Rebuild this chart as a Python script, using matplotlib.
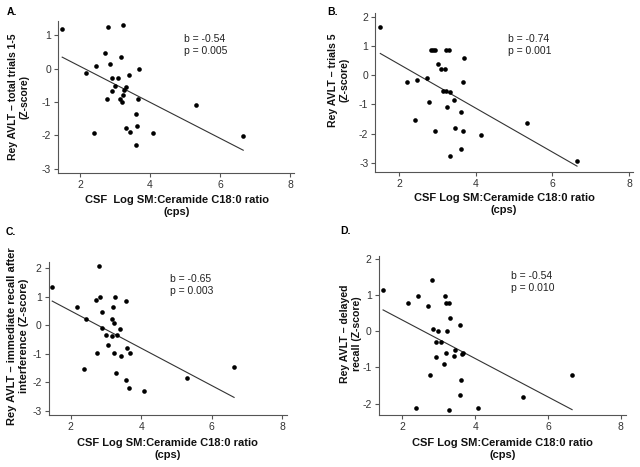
import matplotlib
matplotlib.use("Agg")
import matplotlib.pyplot as plt
import numpy as np

plt.rcParams['font.family'] = ['Liberation Sans', 'DejaVu Sans']
plt.rcParams['axes.unicode_minus'] = False

# ---------------- data ----------------
a_x = [1.49, 2.81, 3.22, 2.72, 3.18, 2.46, 2.86, 2.18, 3.69, 2.92, 3.07, 3.41, 3.31, 2.99, 2.90,
       3.26, 3.24, 2.76, 3.15, 3.21, 3.66, 5.31, 3.59, 3.62, 3.30, 3.44, 2.39, 4.09, 3.59, 6.66]
a_y = [1.18, 1.25, 1.32, 0.48, 0.34, 0.07, 0.13, -0.12, -0.01, -0.28, -0.29, -0.18, -0.54, -0.53, -0.66,
       -0.65, -0.79, -0.91, -0.91, -1.00, -0.92, -1.10, -1.35, -1.71, -1.78, -1.89, -1.92, -1.92, -2.30, -2.03]

b_x = [1.51, 2.83, 2.89, 2.94, 3.22, 3.29, 3.70, 3.01, 3.10, 3.20, 2.20, 2.47, 2.74, 3.67, 3.15,
       3.22, 3.33, 3.42, 2.78, 3.26, 3.62, 2.41, 3.45, 2.93, 3.66, 4.13, 5.33, 3.62, 3.34, 6.64]
b_y = [1.65, 0.85, 0.87, 0.85, 0.87, 0.87, 0.59, 0.37, 0.20, 0.20, -0.24, -0.16, -0.11, -0.24, -0.53,
       -0.53, -0.58, -0.86, -0.91, -1.08, -1.26, -1.55, -1.80, -1.92, -1.92, -2.03, -1.65, -2.51, -2.78, -2.93]

c_x = [1.48, 2.80, 2.18, 2.45, 2.72, 2.84, 3.25, 3.57, 2.90, 3.20, 3.17, 3.23, 2.90, 3.39, 2.99,
       3.32, 3.16, 3.07, 3.61, 2.76, 3.22, 3.67, 3.43, 2.37, 3.29, 3.56, 3.64, 4.08, 5.30, 6.63]
c_y = [1.33, 2.08, 0.64, 0.21, 0.89, 1.00, 1.00, 0.85, 0.48, 0.64, 0.21, 0.08, -0.08, -0.11, -0.32,
       -0.33, -0.37, -0.68, -0.78, -0.96, -0.96, -0.96, -1.07, -1.52, -1.68, -1.92, -2.21, -2.31, -1.85, -1.46]

d_x = [1.47, 2.81, 2.43, 2.16, 2.71, 3.17, 3.20, 3.27, 3.32, 3.57, 2.84, 2.99, 3.22, 2.91, 3.07,
       3.44, 3.20, 3.66, 3.64, 2.91, 3.41, 3.14, 2.76, 3.62, 3.57, 5.31, 6.66, 2.38, 3.29, 4.09]
d_y = [1.15, 1.42, 0.97, 0.79, 0.71, 0.97, 0.79, 0.79, 0.36, 0.18, 0.07, 0.00, 0.00, -0.29, -0.29,
       -0.51, -0.59, -0.59, -0.64, -0.71, -0.69, -0.91, -1.21, -1.34, -1.77, -1.83, -1.20, -2.13, -2.18, -2.13]

fit_slope = [-0.54, -0.75, -0.655, -0.533]
fit_intercept = [1.15, 1.87, 1.82, 1.38]

stats_b = ["-0.54", "-0.74", "-0.65", "-0.54"]
stats_p = ["0.005", "0.001", "0.003", "0.010"]

panel_letters = ["A.", "B.", "C.", "D."]
y_titles = ["Rey AVLT \u2013 total trials 1-5\n(Z-score)",
            "Rey AVLT \u2013 trials 5\n(Z-score)",
            "Rey AVLT \u2013 immediate recall after\ninterference (Z-score)",
            "Rey AVLT \u2013 delayed\nrecall (Z-score)"]
x_titles = ["CSF  Log SM:Ceramide C18:0 ratio\n(cps)",
            "CSF Log SM:Ceramide C18:0 ratio\n(cps)",
            "CSF Log SM:Ceramide C18:0 ratio\n(cps)",
            "CSF Log SM:Ceramide C18:0 ratio\n(cps)"]
x_ticks = [2, 4, 6, 8]
y_ticks = [[1, 0, -1, -2, -3], [2, 1, 0, -1, -2, -3], [2, 1, 0, -1, -2, -3], [2, 1, 0, -1, -2]]

xs = [a_x, b_x, c_x, d_x]
ys = [a_y, b_y, c_y, d_y]

# ---------------- layout ----------------
W, H = 640, 467
fig = plt.figure(figsize=(6.4, 4.67), dpi=100)

# axes boxes in pixels: left, top, right, bottom
boxes = [(58, 21, 294, 173), (375.3, 12.7, 633, 171.7),
         (48.7, 262.3, 286.7, 415.3), (378.7, 255.7, 626, 414.7)]
xlims = [(1.37, 8.11), (1.38, 8.10), (1.38, 8.12), (1.35, 8.14)]
ylims = [(-3.13, 1.43), (-3.30, 2.13), (-3.15, 2.21), (-2.31, 2.10)]
ylab_pos = [(-0.167, 0.50), (-0.141, 0.577), (-0.129, 0.52), (-0.112, 0.508)]
xlab_pos = [(0.504, -0.217), (0.50, -0.203), (0.50, -0.22), (0.50, -0.216)]
ylab_size = [7.5, 7.6, 8.0, 7.6]
letter_pos = [(7, 12), (327, 12), (6, 232), (340, 231)]
stat_pos = [(184, 45), (508, 45), (170, 285), (511, 282)]

for i in range(4):
    l, t, r, b = boxes[i]
    ax = fig.add_axes([l / W, 1 - b / H, (r - l) / W, (b - t) / H])
    ax.scatter(xs[i], ys[i], s=11, color='black', zorder=3, linewidths=0)
    xf = np.array([min(xs[i]), max(xs[i])])
    ax.plot(xf, fit_intercept[i] + fit_slope[i] * xf, color='#333333', lw=0.8)
    ax.set_xlim(*xlims[i])
    ax.set_ylim(*ylims[i])
    ax.set_xticks(x_ticks)
    ax.set_yticks(y_ticks[i])
    for s in ['top', 'right']:
        ax.spines[s].set_visible(False)
    for s in ['left', 'bottom']:
        ax.spines[s].set_linewidth(0.8)
        ax.spines[s].set_color('#555555')
    ax.tick_params(length=3, width=0.8, color='#555555', labelsize=7.5, pad=2,
                   labelcolor='#333333')
    ax.set_ylabel(y_titles[i], fontsize=ylab_size[i], fontweight='bold', va='center',
                  linespacing=1.15, color='#111111')
    ax.yaxis.set_label_coords(*ylab_pos[i])
    ax.set_xlabel(x_titles[i], fontsize=8.0, fontweight='bold', va='center',
                  linespacing=1.2, color='#111111')
    ax.xaxis.set_label_coords(*xlab_pos[i])
    fig.text(letter_pos[i][0] / W, 1 - letter_pos[i][1] / H, panel_letters[i],
             fontsize=7.5, fontweight='bold', va='center', ha='left')
    fig.text(stat_pos[i][0] / W, 1 - stat_pos[i][1] / H,
             "b = " + stats_b[i] + "\np = " + stats_p[i],
             fontsize=7.5, va='center', ha='left', linespacing=1.35, color='#222222')

fig.savefig("out.png", dpi=100)
